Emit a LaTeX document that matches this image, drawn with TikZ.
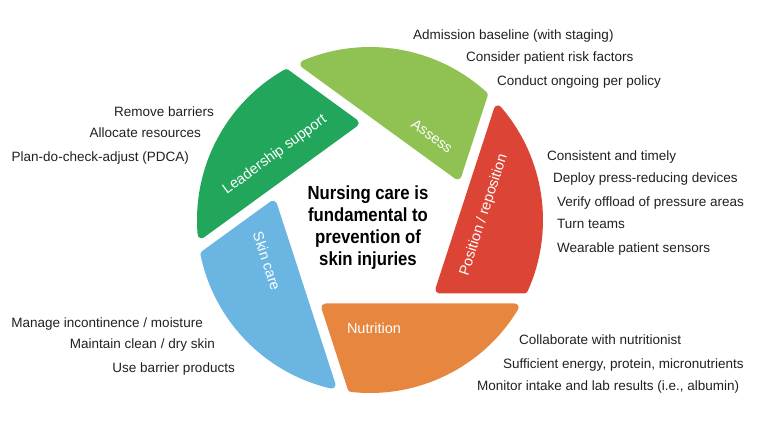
\documentclass[tikz,border=0pt]{standalone}
\usepackage{fontspec}
\setmainfont{Liberation Sans}
\newfontfamily\titlefont{Liberation Sans}[FakeStretch=0.88]
\definecolor{cAssess}{RGB}{143,193,83}
\definecolor{cLead}{RGB}{34,166,92}
\definecolor{cRed}{RGB}{220,69,53}
\definecolor{cNut}{RGB}{231,134,63}
\definecolor{cSkin}{RGB}{107,181,227}
\definecolor{cText}{RGB}{35,31,32}
\begin{document}
\begin{tikzpicture}[x=1pt,y=1pt,
  item/.style={inner sep=0pt, text=cText, font=\fontsize{13.5}{16}\selectfont},
  bladelabel/.style={inner sep=0pt, text=white, font=\fontsize{14.5}{17}\selectfont},
  title/.style={inner sep=0pt, text=black, align=center, font=\titlefont\bfseries\fontsize{19}{22}\selectfont}]
\useasboundingbox (-370,-208) rectangle (390,220);
\def\Rout{173}
\def\dist{78.5}
\def\gapw{5}
\def\rcor{4}
\foreach \ph/\col in {-18/cRed,54/cAssess,126/cLead,198/cSkin,270/cNut}{
  \pgfmathsetmacro\eo{\dist+\gapw+\rcor}
  \pgfmathsetmacro\ei{\dist-\gapw-\rcor}
  \pgfmathsetmacro\Rr{\Rout-\rcor}
  \pgfmathsetmacro\bpar{(\eo*cos(72)-\ei)/sin(72)}
  \pgfmathsetmacro\cang{\ph+atan2(\bpar,\eo)}
  \pgfmathsetmacro\crad{veclen(\eo,\bpar)}
  \pgfmathsetmacro\sone{100*sqrt((\Rr/100)^2-(\eo/100)^2)}
  \pgfmathsetmacro\stwo{100*sqrt((\Rr/100)^2-(\ei/100)^2)}
  \pgfmathsetmacro\aone{\ph+atan2(\sone,\eo)}
  \pgfmathsetmacro\atwo{\ph-72+atan2(\stwo,\ei)}
  \fill[\col, draw=\col, line width=2*\rcor, line join=round]
    (\cang:\crad) -- (\atwo:\Rr) arc[start angle=\atwo, end angle=\aone, radius=\Rr] -- cycle;
}
% blade labels
\node[bladelabel, rotate=-36] (lAssess) at (62,84) {Assess};
\node[bladelabel, rotate=36] (lLead) at (-95,65) {Leadership support};
\node[bladelabel, rotate=72] (lPos) at (114,5) {Position / reposition};
\node[bladelabel] (lNut) at (4,-108) {Nutrition};
\node[bladelabel, rotate=-72] (lSkin) at (-103,-41) {Skin care};
% centre
\node[title] (centre) at (-2,-8) {Nursing care is\\fundamental to\\prevention of\\skin injuries};
% assess items
\node[item, anchor=base west] (a1) at (43,180) {Admission baseline (with staging)};
\node[item, anchor=base west] (a2) at (96,158) {Consider patient risk factors};
\node[item, anchor=base west] (a3) at (127,134) {Conduct ongoing per policy};
% position items
\node[item, anchor=base west] (p1) at (177,59) {Consistent and timely};
\node[item, anchor=base west] (p2) at (183,37) {Deploy press-reducing devices};
\node[item, anchor=base west] (p3) at (187,13) {Verify offload of pressure areas};
\node[item, anchor=base west] (p4) at (187,-9) {Turn teams};
\node[item, anchor=base west] (p5) at (187,-33) {Wearable patient sensors};
% nutrition items
\node[item, anchor=base west] (n1) at (149,-124) {Collaborate with nutritionist};
\node[item, anchor=base west] (n2) at (133,-148) {Sufficient energy, protein, micronutrients};
\node[item, anchor=base west] (n3) at (107,-170) {Monitor intake and lab results (i.e., albumin)};
% leadership items
\node[item, anchor=base east] (l1) at (-156,103) {Remove barriers};
\node[item, anchor=base east] (l2) at (-169,82) {Allocate resources};
\node[item, anchor=base east] (l3) at (-181,58) {Plan-do-check-adjust (PDCA)};
% skin items
\node[item, anchor=base east] (s1) at (-167,-107) {Manage incontinence / moisture};
\node[item, anchor=base east] (s2) at (-155,-128) {Maintain clean / dry skin};
\node[item, anchor=base east] (s3) at (-135,-152) {Use barrier products};
\end{tikzpicture}
\end{document}
